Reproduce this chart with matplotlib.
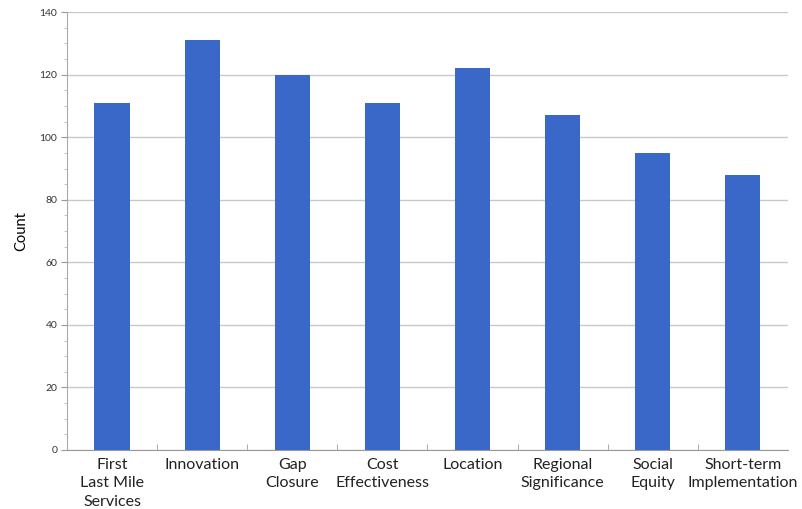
import matplotlib
matplotlib.use("Agg")
import matplotlib.pyplot as plt
import numpy as np
from matplotlib.ticker import MultipleLocator, FixedLocator

categories = ["First\nLast Mile\nServices", "Innovation", "Gap\nClosure", "Cost\nEffectiveness",
              "Location", "Regional\nSignificance", "Social\nEquity", "Short-term\nImplementation"]
counts = [111, 131, 120, 111, 122, 107, 95, 88]
y_ticks = [0, 20, 40, 60, 80, 100, 120, 140]

fig = plt.figure(figsize=(8.02, 5.09), dpi=100)
ax = fig.add_axes([0.0835, 0.116, 0.899, 0.86])

x = np.arange(len(categories))
ax.bar(x, counts, width=0.39, color="#3A68C8", zorder=3)

ax.set_xlim(-0.5, len(categories) - 0.5)
ax.set_ylim(0, 140)
ax.set_yticks(y_ticks)
ax.set_yticklabels([str(v) for v in y_ticks], fontsize=7.5, color="#333333", family="Lato")
ax.yaxis.set_minor_locator(MultipleLocator(5))
ax.tick_params(axis="y", which="major", length=4, color="#999999", pad=3)
ax.tick_params(axis="y", which="minor", length=2, color="#bbbbbb")
ax.grid(axis="y", color="#c8c8c8", linewidth=1.0, zorder=0)

ax.set_xticks(x)
ax.set_xticklabels(categories, fontsize=11.5, family="Lato", color="#222222", linespacing=1.38)
ax.tick_params(axis="x", which="major", length=0, pad=6)
ax.xaxis.set_minor_locator(FixedLocator(np.arange(0.5, len(categories) - 0.5, 1)))
ax.tick_params(axis="x", which="minor", length=4, direction="in", color="#999999")

ax.set_ylabel("Count", fontsize=10.5, family="Lato", labelpad=8)

for s in ["top", "right"]:
    ax.spines[s].set_visible(False)
ax.spines["left"].set_color("#aaaaaa")
ax.spines["bottom"].set_color("#999999")

fig.savefig("out.png", dpi=100)
